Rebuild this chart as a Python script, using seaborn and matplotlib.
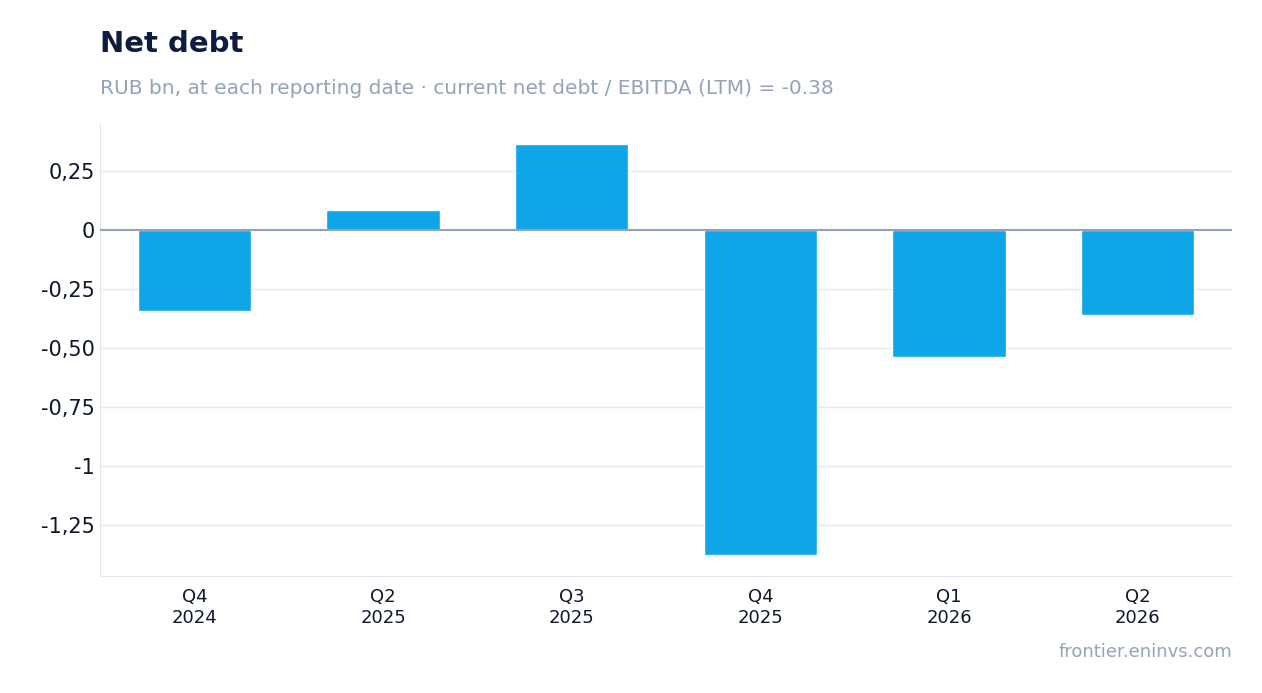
import matplotlib
matplotlib.use('Agg')
import matplotlib.pyplot as plt
import seaborn as sns
import pandas as pd

quarters = ['Q4\n2024', 'Q2\n2025', 'Q3\n2025', 'Q4\n2025', 'Q1\n2026', 'Q2\n2026']
net_debt = [-0.343, 0.085, 0.364, -1.377, -0.538, -0.360]
yticks = [0.25, 0, -0.25, -0.5, -0.75, -1, -1.25]

df = pd.DataFrame({'quarter': quarters, 'net_debt': net_debt})

sns.set_style('white')
fig = plt.figure(figsize=(12.62, 6.93), dpi=100)
ax = fig.add_axes([100/1262, 1 - 576/693, 1132/1262, 453/693])

sns.barplot(data=df, x='quarter', y='net_debt', color='#0ea5e9', saturation=1,
            width=0.6, ax=ax, zorder=3)

ax.set_ylim(-1.466, 0.453)
ax.set_yticks(yticks)
def fmt(v):
    if v == 0:
        return '0'
    if v == int(v):
        return str(int(v))
    return f'{v:.2f}'.replace('.', ',')
ax.set_yticklabels([fmt(v) for v in yticks], fontsize=15, color='#0f172a')
ax.tick_params(axis='x', labelsize=13, colors='#0f172a', length=5, color='#0f172a')
ax.tick_params(axis='y', length=0)
ax.grid(axis='y', color='#e2e8f0', lw=1, zorder=0)
ax.axhline(0, color='#94a3b8', lw=1.5, zorder=4)
ax.set_xlabel('')
ax.set_ylabel('')
for s in ['top', 'right']:
    ax.spines[s].set_visible(False)
for s in ['left', 'bottom']:
    ax.spines[s].set_color('#e2e8f0')

fig.text(100/1262, 1 - 44/693, 'Net debt', fontsize=21, fontweight='bold',
         color='#0f1c3f', va='center')
fig.text(100/1262, 1 - 88/693,
         'RUB bn, at each reporting date · current net debt / EBITDA (LTM) = -0.38',
         fontsize=14.5, color='#94a3b8', va='center')
fig.text(1232/1262, 1 - 652/693, 'frontier.eninvs.com', fontsize=13,
         color='#94a3b8', ha='right', va='center')

fig.savefig('out.png', dpi=100)
